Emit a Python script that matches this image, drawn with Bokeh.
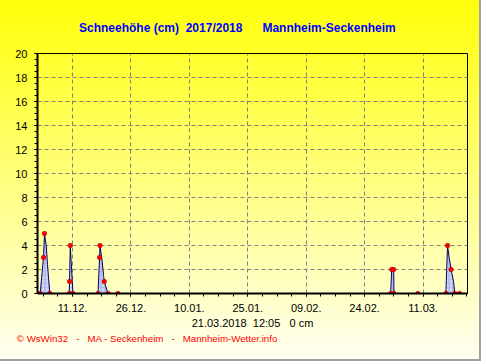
import pandas as pd
from bokeh.plotting import figure
from bokeh.models import Title, FixedTicker, DatetimeTickFormatter, Range1d
from bokeh.embed import file_html
from bokeh.resources import INLINE

NB = "\u00a0"
# ---- texts ----
title_text = "Schneehöhe (cm)" + NB + " 2017/2018" + (NB + " ") * 3 + "Mannheim-Seckenheim"
status_text = "21.03.2018" + NB + " 12:05" + NB + " " + NB + "0 cm"
footer_text = ("© WsWin32" + NB + " " + NB + "-" + NB + " " + NB + "MA - Seckenheim"
               + NB + " " + NB + "-" + NB + " " + NB + "Mannheim-Wetter.info")

# ---- axes ----
x_start = "2017-12-02 00:00"
x_end = "2018-03-22 10:00"
tick_dates = ["2017-12-11", "2017-12-26", "2018-01-10", "2018-01-25",
              "2018-02-09", "2018-02-24", "2018-03-11"]
y_ticks = [0, 2, 4, 6, 8, 10, 12, 14, 16, 18, 20]

# ---- snow depth series (cm) ----
line_times = [
    "2017-12-02 16:30", "2017-12-03 13:00", "2017-12-03 19:00", "2017-12-04 05:45",
    "2017-12-04 13:40", "2017-12-04 20:00", "2017-12-05 04:30",
    "2017-12-10 03:30", "2017-12-10 05:30", "2017-12-10 10:00", "2017-12-10 16:00",
    "2017-12-11 02:30",
    "2017-12-17 12:45", "2017-12-17 22:30", "2017-12-18 01:00", "2017-12-18 13:30",
    "2017-12-18 23:15", "2017-12-19 03:30", "2017-12-20 02:30", "2017-12-22 16:00",
    "2018-03-02 16:30", "2018-03-02 22:50", "2018-03-03 11:00", "2018-03-03 13:00",
    "2018-03-09 16:00",
    "2018-03-16 20:40", "2018-03-17 07:00", "2018-03-17 17:00", "2018-03-18 05:00",
    "2018-03-18 20:00", "2018-03-19 04:00", "2018-03-20 09:00",
]
line_depth = [
    0, 3, 5, 4.0,
    2.4, 1.3, 0,
    0, 1, 4, 2.5,
    0,
    0, 3, 4, 2.8,
    1.5, 1, 0, 0,
    0, 2, 2, 0,
    0,
    0, 4, 3, 2,
    1, 0, 0,
]

reading_times = [
    "2017-12-02 16:30", "2017-12-03 13:00", "2017-12-03 19:00", "2017-12-05 04:30",
    "2017-12-10 03:30", "2017-12-10 05:30", "2017-12-10 10:00", "2017-12-11 02:30",
    "2017-12-17 12:45", "2017-12-17 22:30", "2017-12-18 01:00", "2017-12-19 03:30",
    "2017-12-20 02:30", "2017-12-22 16:00",
    "2018-03-02 16:30", "2018-03-02 22:50", "2018-03-03 11:00", "2018-03-03 13:00",
    "2018-03-09 16:00", "2018-03-16 20:40", "2018-03-17 07:00", "2018-03-18 05:00",
    "2018-03-19 04:00", "2018-03-20 09:00",
]
reading_depth = [
    0, 3, 5, 0,
    0, 1, 4, 0,
    0, 3, 4, 1,
    0, 0,
    0, 2, 2, 0,
    0, 0, 4, 2,
    0, 0,
]

FONT = "Liberation Sans"

def ms(s):
    return pd.Timestamp(s).value // 10**6

major = [ms(d) for d in tick_dates]
step = (major[1] - major[0]) / 4.0
x0, x1 = ms(x_start), ms(x_end)
t = major[0]
while t - step >= x0:
    t -= step
minor = []
while t <= x1:
    minor.append(t)
    t += step

p = figure(width=481, height=361, x_axis_type="datetime",
           output_backend="svg", toolbar_location=None,
           x_range=Range1d(x0, x1), y_range=Range1d(0, 20),
           min_border_left=37, min_border_right=14,
           min_border_top=53, min_border_bottom=68,
           border_fill_color=None, background_fill_color=None,
           outline_line_color="black", outline_line_width=1,
           styles={"background": "linear-gradient(#ffff08, #fffff2)",
                   "box-shadow": "inset -2px -2px 0 #a0a0a0"})

# area + line + readings
lt = pd.to_datetime(line_times)
rt = pd.to_datetime(reading_times)
p.varea(x=lt, y1=[0] * len(line_depth), y2=line_depth,
        fill_color="#b8bcec", hatch_pattern=":", hatch_color="white",
        hatch_scale=4, hatch_weight=1, hatch_alpha=0.8)
p.line(x=lt, y=line_depth, line_color="#000060", line_width=1)
p.scatter(x=rt, y=reading_depth, size=4.5, fill_color="#ff0000",
          line_color="#b00000", line_width=0.6)

# x axis
xt = FixedTicker(ticks=major, minor_ticks=minor)
p.xaxis.ticker = xt
fmt = "%d.%m."
p.xaxis.formatter = DatetimeTickFormatter(
    microseconds=fmt, milliseconds=fmt, seconds=fmt, minsec=fmt, minutes=fmt,
    hourmin=fmt, hours=fmt, days=fmt, months=fmt, years=fmt, context=None)
p.xgrid.ticker = xt

yt = FixedTicker(ticks=y_ticks, minor_ticks=[i * 0.5 for i in range(41)])
p.yaxis.ticker = yt
p.ygrid.ticker = yt

for ax in (p.xaxis[0], p.yaxis[0]):
    ax.axis_line_color = "black"
    ax.axis_line_width = 2
    ax.major_tick_line_color = "black"
    ax.minor_tick_line_color = "black"
    ax.major_tick_in = 0
    ax.minor_tick_in = 0
    ax.major_tick_out = 3
    ax.minor_tick_out = 3
    ax.major_label_text_font = FONT
    ax.major_label_text_font_size = "11px"
    ax.major_label_text_color = "black"
p.xaxis.major_label_standoff = 7
p.yaxis.major_label_standoff = 7

for g in (p.xgrid[0], p.ygrid[0]):
    g.grid_line_color = "#808080"
    g.grid_line_dash = "4 3"
    g.grid_line_width = 1

# titles
p.add_layout(Title(text=title_text, align="left", offset=41.5, standoff=34,
                   vertical_align="top",
                   text_font=FONT, text_font_size="12px", text_font_style="bold",
                   text_color="#0000ff"), "above")
p.add_layout(Title(text=status_text, align="center", standoff=0,
                   text_font=FONT, text_font_size="11px", text_font_style="normal",
                   text_color="black"), "below")
p.add_layout(Title(text=footer_text, align="left", offset=-20.7, standoff=5,
                   text_font=FONT, text_font_size="9.7px", text_font_style="normal",
                   text_color="#ff0000"), "below")

open("out.html", "w").write(file_html(p, INLINE))
